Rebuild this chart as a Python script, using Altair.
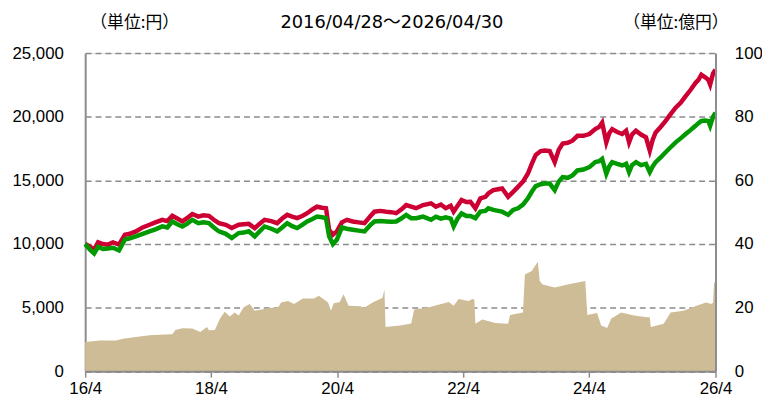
import altair as alt
import pandas as pd

# 基準価額（緑）と分配金再投資基準価額（赤）: 円
line_dates = [
    "2016-04-28", "2016-05-26", "2016-06-19", "2016-07-12", "2016-08-09", "2016-09-07",
    "2016-10-06", "2016-11-10", "2016-12-14", "2017-01-12", "2017-02-16", "2017-03-27",
    "2017-05-06", "2017-06-09", "2017-07-19", "2017-08-17", "2017-09-15", "2017-10-14",
    "2017-11-12", "2017-12-11", "2018-01-09", "2018-02-13", "2018-03-14", "2018-04-15",
    "2018-05-14", "2018-06-12", "2018-07-22", "2018-08-26", "2018-10-05", "2018-11-03",
    "2018-12-02", "2019-01-06", "2019-02-04", "2019-03-04", "2019-04-12", "2019-05-16",
    "2019-06-14", "2019-07-13", "2019-08-11", "2019-09-09", "2019-10-08", "2019-11-06",
    "2019-12-04", "2020-01-02", "2020-01-31", "2020-02-23", "2020-03-12", "2020-04-03",
    "2020-04-26", "2020-05-25", "2020-06-23", "2020-07-27", "2020-08-30", "2020-10-03",
    "2020-11-07", "2020-11-30", "2021-01-03", "2021-02-07", "2021-03-08", "2021-04-05",
    "2021-05-04", "2021-06-02", "2021-07-01", "2021-07-29", "2021-09-08", "2021-10-24",
    "2021-11-21", "2021-12-20", "2022-01-17", "2022-02-15", "2022-03-04", "2022-03-27",
    "2022-04-19", "2022-05-17", "2022-06-09", "2022-07-08", "2022-08-06", "2022-09-04",
    "2022-09-21", "2022-10-20", "2022-11-17", "2022-12-10", "2023-01-14", "2023-02-12",
    "2023-03-12", "2023-04-10", "2023-05-08", "2023-05-31", "2023-06-23", "2023-07-22",
    "2023-08-14", "2023-09-12", "2023-10-11", "2023-11-03", "2023-11-26", "2023-12-25",
    "2024-01-22", "2024-02-20", "2024-03-25", "2024-04-29", "2024-06-02", "2024-06-25",
    "2024-07-12", "2024-08-05", "2024-08-22", "2024-09-08", "2024-10-07", "2024-11-05",
    "2024-11-28", "2024-12-15", "2025-01-01", "2025-01-24", "2025-02-22", "2025-03-23",
    "2025-04-14", "2025-05-01", "2025-05-18", "2025-06-16", "2025-07-15", "2025-08-13",
    "2025-09-11", "2025-10-10", "2025-11-08", "2025-12-06", "2026-01-04", "2026-01-21",
    "2026-02-07", "2026-03-01", "2026-03-19", "2026-03-30", "2026-04-16", "2026-04-30",
]
reinvest_values = [
    10000, 9800, 9560, 10130, 10000, 9950,
    10130, 9950, 10730, 10800, 10990, 11300,
    11510, 11700, 11900, 11800, 12210, 12000,
    11770, 12050, 12360, 12150, 12250, 12210,
    11900, 11640, 11500, 11250, 11510, 11550,
    11580, 11250, 11600, 11900, 11800, 11640,
    12000, 12290, 12150, 12030, 12200, 12420,
    12700, 12930, 12850, 12810, 11120, 10730,
    10990, 11700, 11900, 11770, 11700, 11640,
    12200, 12540, 12600, 12540, 12500, 12420,
    12700, 13060, 12930, 12810, 13060, 13200,
    12930, 13100, 12810, 13000, 12540, 13000,
    13450, 13300, 13320, 12810, 13580, 13700,
    13970, 14230, 14300, 14360, 13710, 14100,
    14490, 14900, 15520, 16300, 17000, 17300,
    17340, 17300, 16430, 17400, 17900, 17950,
    18120, 18500, 18500, 18640, 19030, 19200,
    19540, 17990, 18700, 19030, 18800, 18640,
    18900, 17990, 18600, 18900, 18600, 18380,
    17340, 18200, 18770, 19200, 19670, 20200,
    20710, 21100, 21620, 22100, 22650, 22900,
    23300, 23100, 22910, 22530, 23400, 23690,
]
nav_values = [
    10000, 9550, 9250, 9770, 9600, 9650,
    9700, 9490, 10340, 10450, 10600, 10800,
    10990, 11150, 11380, 11300, 11770, 11550,
    11380, 11600, 11900, 11640, 11700, 11640,
    11300, 10990, 10800, 10470, 10860, 10900,
    11000, 10600, 11000, 11380, 11200, 10990,
    11300, 11640, 11400, 11250, 11500, 11770,
    11950, 12150, 12100, 12030, 10600, 10000,
    10340, 11300, 11200, 11120, 11050, 10990,
    11500, 11770, 11800, 11770, 11750, 11770,
    12000, 12290, 12030, 12030, 12150, 11900,
    12150, 12000, 12100, 12000, 11380, 12000,
    12400, 12200, 12200, 12030, 12540, 12600,
    12810, 12680, 12600, 12540, 12290, 12680,
    12810, 13100, 13580, 14100, 14550, 14700,
    14750, 14750, 14230, 14900, 15260, 15200,
    15390, 15780, 15850, 16040, 16430, 16500,
    16690, 15520, 16100, 16430, 16300, 16170,
    16300, 15650, 16200, 16430, 16200, 16300,
    15650, 16100, 16430, 16800, 17210, 17600,
    17990, 18300, 18640, 18950, 19290, 19500,
    19670, 19700, 19670, 19290, 20000, 20320,
]

# 純資産総額: 億円
aum_dates = [
    "2016-04-28", "2016-07-23", "2016-10-23", "2016-12-03", "2017-02-16", "2017-05-06",
    "2017-07-02", "2017-09-15", "2017-10-03", "2017-11-12", "2018-01-09", "2018-02-24",
    "2018-04-04", "2018-04-15", "2018-05-20", "2018-06-18", "2018-07-16", "2018-08-14",
    "2018-09-12", "2018-10-05", "2018-11-03", "2018-12-08", "2019-01-06", "2019-03-26",
    "2019-05-22", "2019-06-08", "2019-07-18", "2019-08-22", "2019-10-13", "2019-12-15",
    "2020-01-13", "2020-03-06", "2020-03-23", "2020-04-08", "2020-05-12", "2020-06-04",
    "2020-07-03", "2020-09-10", "2020-09-28", "2020-11-25", "2021-01-15", "2021-01-27",
    "2021-02-02", "2021-04-28", "2021-07-01", "2021-07-18", "2021-10-12", "2022-02-04",
    "2022-03-04", "2022-04-02", "2022-05-29", "2022-06-21", "2022-07-02", "2022-07-08",
    "2022-08-17", "2022-10-31", "2023-01-14", "2023-01-25", "2023-04-10", "2023-04-21",
    "2023-05-31", "2023-07-05", "2023-07-16", "2023-08-02", "2023-10-11", "2023-12-25",
    "2024-02-20", "2024-04-05", "2024-04-17", "2024-06-13", "2024-07-06", "2024-08-10",
    "2024-09-02", "2024-10-30", "2025-01-13", "2025-03-28", "2025-04-14", "2025-04-20",
    "2025-07-04", "2025-08-13", "2025-10-27", "2026-01-10", "2026-03-06", "2026-04-05",
    "2026-04-16", "2026-04-22", "2026-04-30",
]
aum_values = [
    9.2, 9.7, 9.7, 10.2, 10.8, 11.3,
    11.5, 11.6, 13.0, 13.5, 13.4, 12.3,
    13.9, 12.9, 13.0, 16.5, 18.7, 17.2,
    18.5, 17.5, 20.1, 21.1, 19.0, 19.8,
    20.1, 21.6, 22.1, 21.1, 22.9, 22.9,
    23.7, 21.6, 19.0, 21.4, 21.7, 24.2,
    20.6, 20.4, 19.9, 21.8, 23.0, 25.6,
    13.9, 14.4, 15.0, 19.4, 20.1, 21.8,
    20.6, 22.7, 22.1, 22.7, 22.5, 14.9,
    16.3, 15.2, 14.9, 17.7, 18.5, 30.4,
    31.5, 34.4, 28.4, 27.3, 26.3, 27.3,
    27.9, 28.4, 17.7, 18.3, 14.4, 13.6,
    16.5, 18.5, 17.5, 17.0, 17.0, 13.9,
    14.9, 18.5, 19.0, 20.6, 21.6, 21.1,
    21.5, 27.9, 28.0,
]

left_ticks = [0, 5000, 10000, 15000, 20000, 25000]
right_ticks = [0, 20, 40, 60, 80, 100]
x_ticks = [
    alt.DateTime(year=2016, month=4, date=28),
    alt.DateTime(year=2018, month=4, date=27),
    alt.DateTime(year=2020, month=4, date=28),
    alt.DateTime(year=2022, month=4, date=28),
    alt.DateTime(year=2024, month=4, date=26),
    alt.DateTime(year=2026, month=4, date=30),
]
left_unit = "（単位:円）"
period_text = "2016/04/28～2026/04/30"
right_unit = "（単位:億円）"

df_line = pd.DataFrame({"date": line_dates, "reinvest": reinvest_values, "nav": nav_values})
df_aum = pd.DataFrame({"date": aum_dates, "aum": aum_values})

GRAY = "#8c8c8c"
LABEL_FONT = "Liberation Sans"
JP_FONT = "Noto Sans CJK JP"
DATE_FONT = "DejaVu Sans, Noto Sans CJK JP"

x_enc = alt.X(
    "date:T",
    title=None,
    scale=alt.Scale(domain=[alt.DateTime(year=2016, month=4, date=28),
                            alt.DateTime(year=2026, month=4, date=30)]),
    axis=alt.Axis(
        values=x_ticks, format="%y/%-m", grid=False,
        domainColor=GRAY, domainWidth=2, tickColor=GRAY, tickWidth=1.5, tickSize=6,
        labelPadding=4, labelFontSize=17, labelFont=LABEL_FONT, labelColor="#000",
        labelFlush=False, zindex=1,
    ),
)

left_axis = alt.Axis(
    values=left_ticks, format=",d", grid=True, gridColor=GRAY, gridWidth=1.5,
    gridDash=[6, 4], ticks=False, domainColor=GRAY, domainWidth=2,
    labelPadding=22, labelFontSize=17, labelFont=LABEL_FONT, labelColor="#000",
)
left_scale = alt.Scale(domain=[0, 25000], nice=False)

area = alt.Chart(df_aum).mark_area(color="#CDBC96", opacity=1).encode(
    x=x_enc,
    y=alt.Y(
        "aum:Q",
        title=None,
        scale=alt.Scale(domain=[0, 100], nice=False),
        axis=alt.Axis(
            orient="right", values=right_ticks, format="d", grid=False, ticks=False,
            domainColor=GRAY, domainWidth=2, labelPadding=19, labelFontSize=17,
            labelFont=LABEL_FONT, labelColor="#000", zindex=1,
        ),
    ),
)

red = alt.Chart(df_line).mark_line(color="#CC0033", strokeWidth=4.5).encode(
    x=x_enc,
    y=alt.Y("reinvest:Q", title=None, scale=left_scale, axis=left_axis),
)
green = alt.Chart(df_line).mark_line(color="#009900", strokeWidth=4.5).encode(
    x=x_enc,
    y=alt.Y("nav:Q", title=None, scale=left_scale, axis=left_axis),
)


def header(text, xpos, font, size):
    return alt.Chart(pd.DataFrame({"t": [text]})).mark_text(
        font=font, fontSize=size, color="#000", align="center", baseline="middle"
    ).encode(text="t:N", x=alt.value(xpos), y=alt.value(-30.5))


headers = [
    header(left_unit, 50, JP_FONT, 17),
    header(period_text, 310, DATE_FONT, 18),
    header(right_unit, 597, JP_FONT, 17),
]

chart = (
    alt.layer(area, alt.layer(red, green), *headers)
    .resolve_scale(y="independent")
    .properties(
        width=637,
        height=321.5,
        autosize=alt.AutoSizeParams(type="none"),
        padding={"left": 78, "top": 43.5, "right": 47, "bottom": 30},
    )
    .configure_view(strokeWidth=0)
    .configure(background="white")
)

chart.save("out.html", embed_options={"renderer": "svg", "actions": False})
